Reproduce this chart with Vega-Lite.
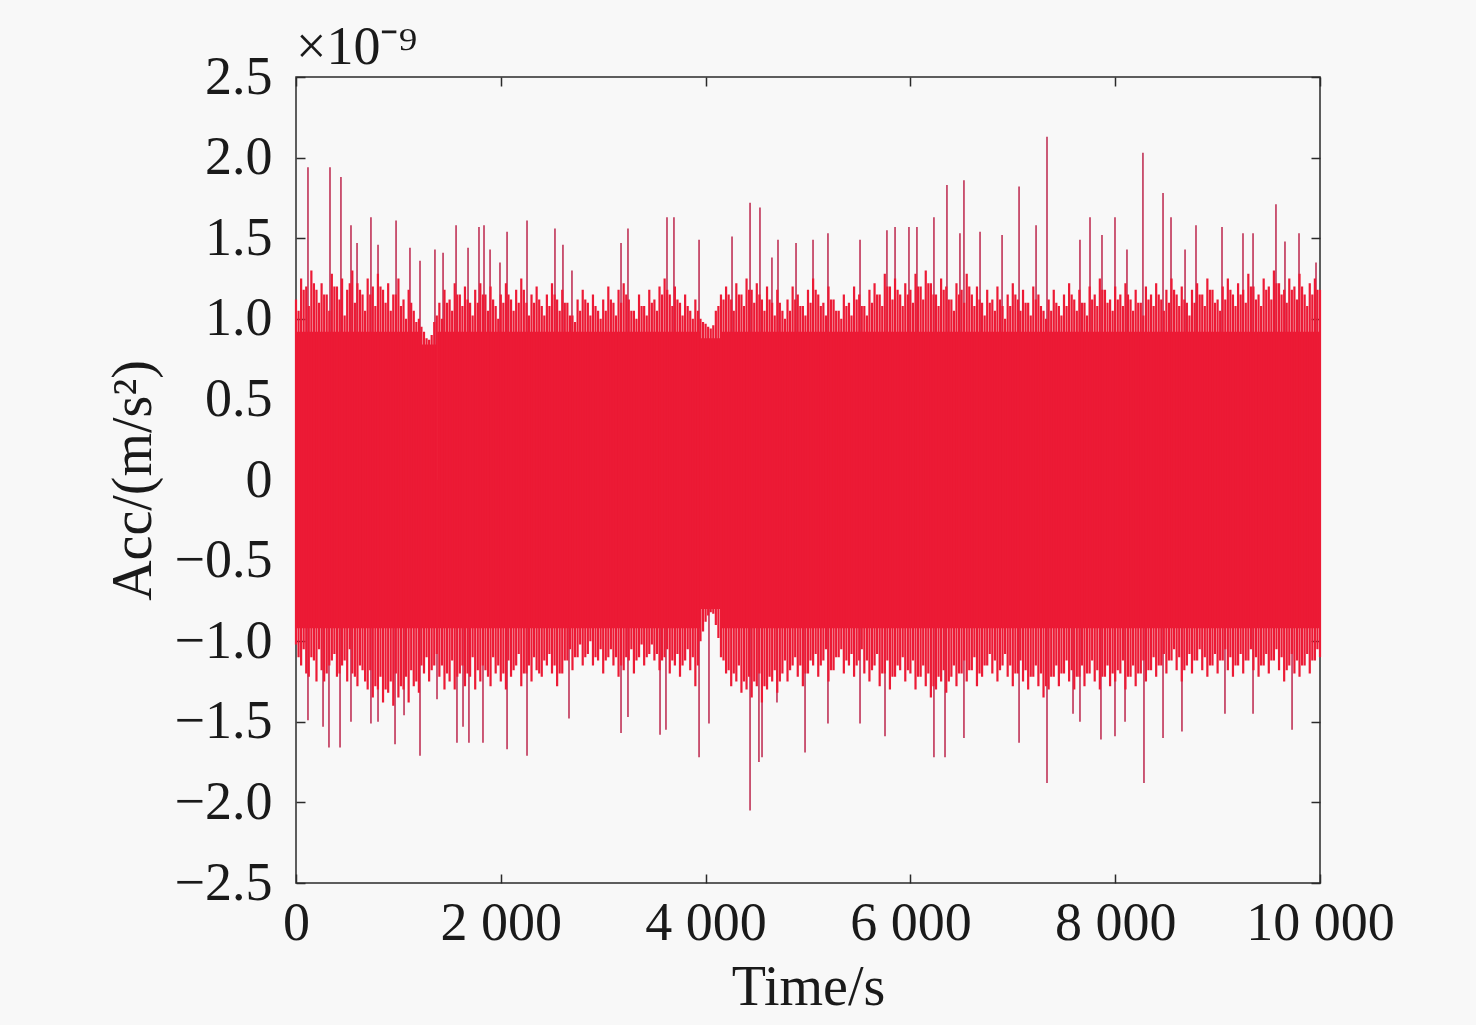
{
  "$schema": "https://vega.github.io/schema/vega-lite/v6.json",
  "width": 1024,
  "height": 806,
  "autosize": {"type": "none"},
  "padding": {"left": 296, "top": 77, "right": 156, "bottom": 142},
  "background": "#F8F8F8",
  "title": {
    "text": "×10⁻⁹",
    "anchor": "start",
    "frame": "group",
    "font": "Liberation Serif",
    "fontSize": 54,
    "fontWeight": "normal",
    "color": "#1a1a1a",
    "offset": 10,
    "dy": 35
  },
  "config": {
    "view": {"stroke": "#2a2a2a", "strokeWidth": 1.5, "fill": "#F8F8F8"},
    "axis": {
      "labelFont": "Liberation Serif",
      "labelFontSize": 54,
      "labelColor": "#1a1a1a",
      "titleFont": "Liberation Serif",
      "titleFontSize": 56,
      "titleFontWeight": "normal",
      "titleColor": "#1a1a1a",
      "domain": false,
      "grid": false,
      "tickSize": -9,
      "tickColor": "#2a2a2a",
      "tickWidth": 1.5
    }
  },
  "datasets": {
    "core": [
      {"t0": 0, "t1": 1220, "lo": -0.92, "hi": 0.92},
      {"t0": 1220, "t1": 1380, "lo": -0.92, "hi": 0.84},
      {"t0": 1380, "t1": 3950, "lo": -0.92, "hi": 0.92},
      {"t0": 3950, "t1": 4150, "lo": -0.8, "hi": 0.88},
      {"t0": 4150, "t1": 10000, "lo": -0.92, "hi": 0.92}
    ],
    "fringe": [
      {"t":0,"hi":1.12,"lo":-1.02},{"t":50,"hi":1.25,"lo":-1.15},{"t":100,"hi":1.2,"lo":-1.2},{"t":150,"hi":1.3,"lo":-1.1},
      {"t":200,"hi":1.18,"lo":-1.25},{"t":250,"hi":1.22,"lo":-1.18},{"t":300,"hi":1.15,"lo":-1.2},{"t":350,"hi":1.28,"lo":-1.12},
      {"t":400,"hi":1.2,"lo":-1.22},{"t":450,"hi":1.25,"lo":-1.15},{"t":500,"hi":1.18,"lo":-1.25},{"t":550,"hi":1.3,"lo":-1.2},
      {"t":600,"hi":1.22,"lo":-1.28},{"t":650,"hi":1.15,"lo":-1.18},{"t":700,"hi":1.25,"lo":-1.3},{"t":750,"hi":1.2,"lo":-1.35},
      {"t":800,"hi":1.28,"lo":-1.3},{"t":850,"hi":1.18,"lo":-1.38},{"t":900,"hi":1.22,"lo":-1.32},{"t":950,"hi":1.15,"lo":-1.4},
      {"t":1000,"hi":1.25,"lo":-1.35},{"t":1050,"hi":1.12,"lo":-1.3},{"t":1100,"hi":1.18,"lo":-1.38},{"t":1150,"hi":1.05,"lo":-1.28},
      {"t":1200,"hi":1.0,"lo":-1.32},{"t":1250,"hi":0.92,"lo":-1.2},{"t":1300,"hi":0.87,"lo":-1.25},{"t":1350,"hi":0.98,"lo":-1.15},
      {"t":1400,"hi":1.1,"lo":-1.22},{"t":1450,"hi":1.18,"lo":-1.3},{"t":1500,"hi":1.12,"lo":-1.25},{"t":1550,"hi":1.22,"lo":-1.3},
      {"t":1600,"hi":1.15,"lo":-1.2},{"t":1650,"hi":1.2,"lo":-1.28},{"t":1700,"hi":1.1,"lo":-1.22},{"t":1750,"hi":1.18,"lo":-1.3},
      {"t":1800,"hi":1.22,"lo":-1.25},{"t":1850,"hi":1.15,"lo":-1.18},{"t":1900,"hi":1.2,"lo":-1.28},{"t":1950,"hi":1.08,"lo":-1.2},
      {"t":2000,"hi":1.15,"lo":-1.25},{"t":2050,"hi":1.22,"lo":-1.3},{"t":2100,"hi":1.12,"lo":-1.22},{"t":2150,"hi":1.18,"lo":-1.15},
      {"t":2200,"hi":1.25,"lo":-1.28},{"t":2250,"hi":1.1,"lo":-1.2},{"t":2300,"hi":1.15,"lo":-1.25},{"t":2350,"hi":1.2,"lo":-1.18},
      {"t":2400,"hi":1.08,"lo":-1.22},{"t":2450,"hi":1.15,"lo":-1.15},{"t":2500,"hi":1.22,"lo":-1.2},{"t":2550,"hi":1.12,"lo":-1.28},
      {"t":2600,"hi":1.18,"lo":-1.2},{"t":2650,"hi":1.1,"lo":-1.12},{"t":2700,"hi":1.02,"lo":-1.18},{"t":2750,"hi":1.12,"lo":-1.1},
      {"t":2800,"hi":1.18,"lo":-1.15},{"t":2850,"hi":1.1,"lo":-1.08},{"t":2900,"hi":1.15,"lo":-1.15},{"t":2950,"hi":1.05,"lo":-1.12},
      {"t":3000,"hi":1.12,"lo":-1.2},{"t":3050,"hi":1.2,"lo":-1.1},{"t":3100,"hi":1.1,"lo":-1.15},{"t":3150,"hi":1.18,"lo":-1.22},
      {"t":3200,"hi":1.22,"lo":-1.18},{"t":3250,"hi":1.12,"lo":-1.12},{"t":3300,"hi":1.05,"lo":-1.2},{"t":3350,"hi":1.15,"lo":-1.1},
      {"t":3400,"hi":1.08,"lo":-1.15},{"t":3450,"hi":1.18,"lo":-1.08},{"t":3500,"hi":1.12,"lo":-1.12},{"t":3550,"hi":1.2,"lo":-1.18},
      {"t":3600,"hi":1.25,"lo":-1.1},{"t":3650,"hi":1.15,"lo":-1.2},{"t":3700,"hi":1.2,"lo":-1.15},{"t":3750,"hi":1.1,"lo":-1.22},
      {"t":3800,"hi":1.15,"lo":-1.12},{"t":3850,"hi":1.05,"lo":-1.18},{"t":3900,"hi":1.12,"lo":-1.28},{"t":3950,"hi":1.0,"lo":-1.0},
      {"t":4000,"hi":0.97,"lo":-0.88},{"t":4050,"hi":0.94,"lo":-0.82},{"t":4100,"hi":1.05,"lo":-0.9},{"t":4150,"hi":1.15,"lo":-1.1},
      {"t":4200,"hi":1.2,"lo":-1.2},{"t":4250,"hi":1.12,"lo":-1.28},{"t":4300,"hi":1.22,"lo":-1.25},{"t":4350,"hi":1.15,"lo":-1.32},
      {"t":4400,"hi":1.25,"lo":-1.3},{"t":4450,"hi":1.18,"lo":-1.35},{"t":4500,"hi":1.22,"lo":-1.28},{"t":4550,"hi":1.12,"lo":-1.38},
      {"t":4600,"hi":1.2,"lo":-1.3},{"t":4650,"hi":1.1,"lo":-1.25},{"t":4700,"hi":1.18,"lo":-1.32},{"t":4750,"hi":1.05,"lo":-1.2},
      {"t":4800,"hi":1.12,"lo":-1.25},{"t":4850,"hi":1.2,"lo":-1.15},{"t":4900,"hi":1.15,"lo":-1.22},{"t":4950,"hi":1.08,"lo":-1.28},
      {"t":5000,"hi":1.18,"lo":-1.2},{"t":5050,"hi":1.25,"lo":-1.15},{"t":5100,"hi":1.15,"lo":-1.22},{"t":5150,"hi":1.1,"lo":-1.12},
      {"t":5200,"hi":1.2,"lo":-1.25},{"t":5250,"hi":1.12,"lo":-1.18},{"t":5300,"hi":1.05,"lo":-1.1},{"t":5350,"hi":1.15,"lo":-1.2},
      {"t":5400,"hi":1.1,"lo":-1.15},{"t":5450,"hi":1.2,"lo":-1.22},{"t":5500,"hi":1.15,"lo":-1.12},{"t":5550,"hi":1.08,"lo":-1.2},
      {"t":5600,"hi":1.18,"lo":-1.25},{"t":5650,"hi":1.22,"lo":-1.15},{"t":5700,"hi":1.15,"lo":-1.28},{"t":5750,"hi":1.28,"lo":-1.2},
      {"t":5800,"hi":1.2,"lo":-1.3},{"t":5850,"hi":1.25,"lo":-1.22},{"t":5900,"hi":1.15,"lo":-1.18},{"t":5950,"hi":1.22,"lo":-1.25},
      {"t":6000,"hi":1.18,"lo":-1.2},{"t":6050,"hi":1.28,"lo":-1.3},{"t":6100,"hi":1.2,"lo":-1.22},{"t":6150,"hi":1.3,"lo":-1.28},
      {"t":6200,"hi":1.22,"lo":-1.35},{"t":6250,"hi":1.15,"lo":-1.3},{"t":6300,"hi":1.25,"lo":-1.25},{"t":6350,"hi":1.2,"lo":-1.32},
      {"t":6400,"hi":1.12,"lo":-1.22},{"t":6450,"hi":1.22,"lo":-1.28},{"t":6500,"hi":1.18,"lo":-1.2},{"t":6550,"hi":1.28,"lo":-1.25},
      {"t":6600,"hi":1.15,"lo":-1.18},{"t":6650,"hi":1.2,"lo":-1.28},{"t":6700,"hi":1.1,"lo":-1.22},{"t":6750,"hi":1.18,"lo":-1.15},
      {"t":6800,"hi":1.12,"lo":-1.2},{"t":6850,"hi":1.2,"lo":-1.25},{"t":6900,"hi":1.08,"lo":-1.15},{"t":6950,"hi":1.15,"lo":-1.22},
      {"t":7000,"hi":1.22,"lo":-1.28},{"t":7050,"hi":1.12,"lo":-1.2},{"t":7100,"hi":1.18,"lo":-1.25},{"t":7150,"hi":1.1,"lo":-1.3},
      {"t":7200,"hi":1.2,"lo":-1.22},{"t":7250,"hi":1.15,"lo":-1.28},{"t":7300,"hi":1.05,"lo":-1.35},{"t":7350,"hi":1.12,"lo":-1.3},
      {"t":7400,"hi":1.18,"lo":-1.22},{"t":7450,"hi":1.08,"lo":-1.28},{"t":7500,"hi":1.15,"lo":-1.2},{"t":7550,"hi":1.22,"lo":-1.25},
      {"t":7600,"hi":1.12,"lo":-1.3},{"t":7650,"hi":1.18,"lo":-1.22},{"t":7700,"hi":1.1,"lo":-1.28},{"t":7750,"hi":1.2,"lo":-1.2},
      {"t":7800,"hi":1.15,"lo":-1.25},{"t":7850,"hi":1.25,"lo":-1.3},{"t":7900,"hi":1.18,"lo":-1.22},{"t":7950,"hi":1.12,"lo":-1.28},
      {"t":8000,"hi":1.2,"lo":-1.25},{"t":8050,"hi":1.15,"lo":-1.2},{"t":8100,"hi":1.22,"lo":-1.3},{"t":8150,"hi":1.12,"lo":-1.22},
      {"t":8200,"hi":1.18,"lo":-1.28},{"t":8250,"hi":1.1,"lo":-1.2},{"t":8300,"hi":1.2,"lo":-1.25},{"t":8350,"hi":1.15,"lo":-1.18},
      {"t":8400,"hi":1.22,"lo":-1.22},{"t":8450,"hi":1.12,"lo":-1.15},{"t":8500,"hi":1.18,"lo":-1.2},{"t":8550,"hi":1.25,"lo":-1.12},
      {"t":8600,"hi":1.15,"lo":-1.18},{"t":8650,"hi":1.2,"lo":-1.25},{"t":8700,"hi":1.1,"lo":-1.15},{"t":8750,"hi":1.18,"lo":-1.2},
      {"t":8800,"hi":1.22,"lo":-1.12},{"t":8850,"hi":1.15,"lo":-1.18},{"t":8900,"hi":1.25,"lo":-1.22},{"t":8950,"hi":1.18,"lo":-1.15},
      {"t":9000,"hi":1.12,"lo":-1.2},{"t":9050,"hi":1.2,"lo":-1.12},{"t":9100,"hi":1.25,"lo":-1.18},{"t":9150,"hi":1.15,"lo":-1.22},
      {"t":9200,"hi":1.22,"lo":-1.15},{"t":9250,"hi":1.18,"lo":-1.2},{"t":9300,"hi":1.28,"lo":-1.12},{"t":9350,"hi":1.2,"lo":-1.18},
      {"t":9400,"hi":1.15,"lo":-1.22},{"t":9450,"hi":1.25,"lo":-1.15},{"t":9500,"hi":1.2,"lo":-1.2},{"t":9550,"hi":1.3,"lo":-1.12},
      {"t":9600,"hi":1.22,"lo":-1.18},{"t":9650,"hi":1.18,"lo":-1.25},{"t":9700,"hi":1.25,"lo":-1.15},{"t":9750,"hi":1.2,"lo":-1.2},
      {"t":9800,"hi":1.28,"lo":-1.22},{"t":9850,"hi":1.15,"lo":-1.15},{"t":9900,"hi":1.22,"lo":-1.2},{"t":9950,"hi":1.25,"lo":-1.12},
      {"t":10000,"hi":1.18,"lo":-1.1},
      {"t":25,"hi":1.05,"lo":-1.1},{"t":75,"hi":1.18,"lo":-1.05},{"t":125,"hi":1.08,"lo":-1.22},{"t":175,"hi":1.22,"lo":-1.12},
      {"t":225,"hi":1.1,"lo":-1.05},{"t":275,"hi":1.15,"lo":-1.25},{"t":325,"hi":1.05,"lo":-1.15},{"t":375,"hi":1.2,"lo":-1.08},
      {"t":425,"hi":1.12,"lo":-1.2},{"t":475,"hi":1.02,"lo":-1.12},{"t":525,"hi":1.22,"lo":-1.05},{"t":575,"hi":1.1,"lo":-1.22},
      {"t":625,"hi":1.18,"lo":-1.15},{"t":675,"hi":1.05,"lo":-1.25},{"t":725,"hi":1.15,"lo":-1.18},{"t":775,"hi":1.08,"lo":-1.28},
      {"t":825,"hi":1.2,"lo":-1.22},{"t":875,"hi":1.1,"lo":-1.3},{"t":925,"hi":1.05,"lo":-1.25},{"t":975,"hi":1.15,"lo":-1.2},
      {"t":1025,"hi":1.08,"lo":-1.28},{"t":1075,"hi":1.0,"lo":-1.22},{"t":1125,"hi":1.1,"lo":-1.18},{"t":1175,"hi":0.98,"lo":-1.25},
      {"t":1225,"hi":0.95,"lo":-1.15},{"t":1275,"hi":0.88,"lo":-1.1},{"t":1325,"hi":0.9,"lo":-1.18},{"t":1375,"hi":1.02,"lo":-1.08},
      {"t":1425,"hi":1.0,"lo":-1.15},{"t":1475,"hi":1.1,"lo":-1.2},{"t":1525,"hi":1.05,"lo":-1.12},{"t":1575,"hi":1.15,"lo":-1.22},
      {"t":1625,"hi":1.08,"lo":-1.15},{"t":1675,"hi":1.12,"lo":-1.2},{"t":1725,"hi":1.02,"lo":-1.1},{"t":1775,"hi":1.1,"lo":-1.18},
      {"t":1825,"hi":1.15,"lo":-1.15},{"t":1875,"hi":1.05,"lo":-1.22},{"t":1925,"hi":1.12,"lo":-1.1},{"t":1975,"hi":1.0,"lo":-1.15},
      {"t":2025,"hi":1.1,"lo":-1.2},{"t":2075,"hi":1.15,"lo":-1.12},{"t":2125,"hi":1.05,"lo":-1.18},{"t":2175,"hi":1.1,"lo":-1.08},
      {"t":2225,"hi":1.18,"lo":-1.2},{"t":2275,"hi":1.02,"lo":-1.15},{"t":2325,"hi":1.1,"lo":-1.1},{"t":2375,"hi":1.12,"lo":-1.2},
      {"t":2425,"hi":1.02,"lo":-1.12},{"t":2475,"hi":1.08,"lo":-1.08},{"t":2525,"hi":1.15,"lo":-1.15},{"t":2575,"hi":1.05,"lo":-1.2},
      {"t":2625,"hi":1.1,"lo":-1.12},{"t":2675,"hi":1.02,"lo":-1.05},{"t":2725,"hi":0.98,"lo":-1.1},{"t":2775,"hi":1.05,"lo":-1.02},
      {"t":2825,"hi":1.12,"lo":-1.1},{"t":2875,"hi":1.02,"lo":-1.0},{"t":2925,"hi":1.08,"lo":-1.1},{"t":2975,"hi":1.0,"lo":-1.05},
      {"t":3025,"hi":1.05,"lo":-1.12},{"t":3075,"hi":1.12,"lo":-1.05},{"t":3125,"hi":1.02,"lo":-1.1},{"t":3175,"hi":1.1,"lo":-1.15},
      {"t":3225,"hi":1.15,"lo":-1.1},{"t":3275,"hi":1.05,"lo":-1.05},{"t":3325,"hi":1.0,"lo":-1.12},{"t":3375,"hi":1.08,"lo":-1.02},
      {"t":3425,"hi":1.02,"lo":-1.1},{"t":3475,"hi":1.1,"lo":-1.02},{"t":3525,"hi":1.05,"lo":-1.08},{"t":3575,"hi":1.15,"lo":-1.12},
      {"t":3625,"hi":1.18,"lo":-1.05},{"t":3675,"hi":1.08,"lo":-1.12},{"t":3725,"hi":1.12,"lo":-1.08},{"t":3775,"hi":1.02,"lo":-1.15},
      {"t":3825,"hi":1.08,"lo":-1.05},{"t":3875,"hi":1.0,"lo":-1.1},{"t":3925,"hi":1.05,"lo":-1.15},{"t":3975,"hi":0.98,"lo":-0.94},
      {"t":4025,"hi":0.95,"lo":-0.84},{"t":4075,"hi":0.96,"lo":-0.83},{"t":4125,"hi":1.08,"lo":-0.98},{"t":4175,"hi":1.12,"lo":-1.12},
      {"t":4225,"hi":1.15,"lo":-1.18},{"t":4275,"hi":1.05,"lo":-1.2},{"t":4325,"hi":1.15,"lo":-1.15},{"t":4375,"hi":1.08,"lo":-1.25},
      {"t":4425,"hi":1.18,"lo":-1.22},{"t":4475,"hi":1.1,"lo":-1.25},{"t":4525,"hi":1.15,"lo":-1.2},{"t":4575,"hi":1.05,"lo":-1.28},
      {"t":4625,"hi":1.12,"lo":-1.22},{"t":4675,"hi":1.02,"lo":-1.18},{"t":4725,"hi":1.1,"lo":-1.25},{"t":4775,"hi":1.0,"lo":-1.12},
      {"t":4825,"hi":1.05,"lo":-1.18},{"t":4875,"hi":1.12,"lo":-1.1},{"t":4925,"hi":1.08,"lo":-1.15},{"t":4975,"hi":1.02,"lo":-1.2},
      {"t":5025,"hi":1.1,"lo":-1.12},{"t":5075,"hi":1.18,"lo":-1.08},{"t":5125,"hi":1.08,"lo":-1.15},{"t":5175,"hi":1.02,"lo":-1.05},
      {"t":5225,"hi":1.12,"lo":-1.18},{"t":5275,"hi":1.05,"lo":-1.1},{"t":5325,"hi":1.0,"lo":-1.05},{"t":5375,"hi":1.08,"lo":-1.12},
      {"t":5425,"hi":1.02,"lo":-1.08},{"t":5475,"hi":1.12,"lo":-1.15},{"t":5525,"hi":1.08,"lo":-1.05},{"t":5575,"hi":1.02,"lo":-1.12},
      {"t":5625,"hi":1.1,"lo":-1.18},{"t":5675,"hi":1.15,"lo":-1.08},{"t":5725,"hi":1.08,"lo":-1.2},{"t":5775,"hi":1.2,"lo":-1.12},
      {"t":5825,"hi":1.12,"lo":-1.22},{"t":5875,"hi":1.18,"lo":-1.15},{"t":5925,"hi":1.08,"lo":-1.1},{"t":5975,"hi":1.15,"lo":-1.18},
      {"t":6025,"hi":1.1,"lo":-1.12},{"t":6075,"hi":1.2,"lo":-1.22},{"t":6125,"hi":1.12,"lo":-1.15},{"t":6175,"hi":1.22,"lo":-1.2},
      {"t":6225,"hi":1.15,"lo":-1.28},{"t":6275,"hi":1.08,"lo":-1.22},{"t":6325,"hi":1.18,"lo":-1.18},{"t":6375,"hi":1.12,"lo":-1.25},
      {"t":6425,"hi":1.05,"lo":-1.15},{"t":6475,"hi":1.15,"lo":-1.2},{"t":6525,"hi":1.1,"lo":-1.12},{"t":6575,"hi":1.2,"lo":-1.18},
      {"t":6625,"hi":1.08,"lo":-1.1},{"t":6675,"hi":1.12,"lo":-1.2},{"t":6725,"hi":1.02,"lo":-1.15},{"t":6775,"hi":1.1,"lo":-1.08},
      {"t":6825,"hi":1.05,"lo":-1.12},{"t":6875,"hi":1.12,"lo":-1.18},{"t":6925,"hi":1.0,"lo":-1.08},{"t":6975,"hi":1.08,"lo":-1.15},
      {"t":7025,"hi":1.15,"lo":-1.2},{"t":7075,"hi":1.05,"lo":-1.12},{"t":7125,"hi":1.1,"lo":-1.18},{"t":7175,"hi":1.02,"lo":-1.22},
      {"t":7225,"hi":1.12,"lo":-1.15},{"t":7275,"hi":1.08,"lo":-1.2},{"t":7325,"hi":1.0,"lo":-1.28},{"t":7375,"hi":1.05,"lo":-1.22},
      {"t":7425,"hi":1.1,"lo":-1.15},{"t":7475,"hi":1.02,"lo":-1.2},{"t":7525,"hi":1.08,"lo":-1.12},{"t":7575,"hi":1.15,"lo":-1.18},
      {"t":7625,"hi":1.05,"lo":-1.22},{"t":7675,"hi":1.1,"lo":-1.15},{"t":7725,"hi":1.02,"lo":-1.2},{"t":7775,"hi":1.12,"lo":-1.12},
      {"t":7825,"hi":1.08,"lo":-1.18},{"t":7875,"hi":1.18,"lo":-1.22},{"t":7925,"hi":1.1,"lo":-1.15},{"t":7975,"hi":1.05,"lo":-1.2},
      {"t":8025,"hi":1.12,"lo":-1.18},{"t":8075,"hi":1.08,"lo":-1.12},{"t":8125,"hi":1.15,"lo":-1.22},{"t":8175,"hi":1.05,"lo":-1.15},
      {"t":8225,"hi":1.1,"lo":-1.2},{"t":8275,"hi":1.02,"lo":-1.12},{"t":8325,"hi":1.12,"lo":-1.18},{"t":8375,"hi":1.08,"lo":-1.1},
      {"t":8425,"hi":1.15,"lo":-1.15},{"t":8475,"hi":1.05,"lo":-1.08},{"t":8525,"hi":1.1,"lo":-1.12},{"t":8575,"hi":1.18,"lo":-1.05},
      {"t":8625,"hi":1.08,"lo":-1.1},{"t":8675,"hi":1.12,"lo":-1.18},{"t":8725,"hi":1.02,"lo":-1.08},{"t":8775,"hi":1.1,"lo":-1.12},
      {"t":8825,"hi":1.15,"lo":-1.05},{"t":8875,"hi":1.08,"lo":-1.1},{"t":8925,"hi":1.18,"lo":-1.15},{"t":8975,"hi":1.1,"lo":-1.08},
      {"t":9025,"hi":1.05,"lo":-1.12},{"t":9075,"hi":1.12,"lo":-1.05},{"t":9125,"hi":1.18,"lo":-1.1},{"t":9175,"hi":1.08,"lo":-1.15},
      {"t":9225,"hi":1.15,"lo":-1.08},{"t":9275,"hi":1.1,"lo":-1.12},{"t":9325,"hi":1.2,"lo":-1.05},{"t":9375,"hi":1.12,"lo":-1.1},
      {"t":9425,"hi":1.08,"lo":-1.15},{"t":9475,"hi":1.18,"lo":-1.08},{"t":9525,"hi":1.12,"lo":-1.12},{"t":9575,"hi":1.22,"lo":-1.05},
      {"t":9625,"hi":1.15,"lo":-1.1},{"t":9675,"hi":1.1,"lo":-1.18},{"t":9725,"hi":1.18,"lo":-1.08},{"t":9775,"hi":1.12,"lo":-1.12},
      {"t":9825,"hi":1.2,"lo":-1.15},{"t":9875,"hi":1.08,"lo":-1.08},{"t":9925,"hi":1.15,"lo":-1.12},{"t":9975,"hi":1.18,"lo":-1.05}
    ],
    "spikes": [
      {"t":117,"v":1.94},{"t":332,"v":1.94},{"t":439,"v":1.88},{"t":537,"v":1.58},{"t":596,"v":1.47},{"t":732,"v":1.63},
      {"t":801,"v":1.46},{"t":977,"v":1.61},{"t":1113,"v":1.44},{"t":1211,"v":1.36},{"t":1357,"v":1.43},{"t":1436,"v":1.41},
      {"t":1563,"v":1.58},{"t":1680,"v":1.44},{"t":1787,"v":1.57},{"t":1836,"v":1.58},{"t":1895,"v":1.43},{"t":1992,"v":1.35},
      {"t":2061,"v":1.54},{"t":2256,"v":1.61},{"t":2529,"v":1.56},{"t":2607,"v":1.46},{"t":2695,"v":1.3},{"t":3174,"v":1.47},
      {"t":3242,"v":1.56},{"t":3623,"v":1.63},{"t":3691,"v":1.63},{"t":3936,"v":1.49},{"t":4258,"v":1.51},{"t":4434,"v":1.72},
      {"t":4531,"v":1.69},{"t":4648,"v":1.38},{"t":4707,"v":1.49},{"t":4883,"v":1.47},{"t":5049,"v":1.49},{"t":5195,"v":1.53},
      {"t":5508,"v":1.49},{"t":5771,"v":1.55},{"t":5850,"v":1.57},{"t":5986,"v":1.57},{"t":6064,"v":1.57},{"t":6230,"v":1.63},
      {"t":6357,"v":1.83},{"t":6484,"v":1.53},{"t":6523,"v":1.86},{"t":6680,"v":1.54},{"t":6895,"v":1.52},{"t":7061,"v":1.82},
      {"t":7227,"v":1.58},{"t":7334,"v":2.13},{"t":7656,"v":1.49},{"t":7754,"v":1.63},{"t":7871,"v":1.52},{"t":7998,"v":1.63},
      {"t":8115,"v":1.43},{"t":8271,"v":2.03},{"t":8467,"v":1.78},{"t":8545,"v":1.63},{"t":8682,"v":1.43},{"t":8789,"v":1.58},
      {"t":9043,"v":1.57},{"t":9248,"v":1.53},{"t":9346,"v":1.53},{"t":9570,"v":1.71},{"t":9658,"v":1.48},{"t":9795,"v":1.53},
      {"t":9961,"v":1.35},
      {"t":117,"v":-1.49},{"t":264,"v":-1.53},{"t":322,"v":-1.66},{"t":430,"v":-1.66},{"t":537,"v":-1.5},{"t":732,"v":-1.51},
      {"t":801,"v":-1.5},{"t":967,"v":-1.64},{"t":1055,"v":-1.46},{"t":1211,"v":-1.71},{"t":1377,"v":-1.36},{"t":1572,"v":-1.63},
      {"t":1631,"v":-1.53},{"t":1689,"v":-1.63},{"t":1826,"v":-1.63},{"t":2061,"v":-1.67},{"t":2256,"v":-1.71},{"t":2666,"v":-1.48},
      {"t":3174,"v":-1.57},{"t":3242,"v":-1.47},{"t":3555,"v":-1.58},{"t":3613,"v":-1.55},{"t":3936,"v":-1.72},{"t":4033,"v":-1.51},
      {"t":4434,"v":-2.05},{"t":4521,"v":-1.75},{"t":4551,"v":-1.72},{"t":4697,"v":-1.38},{"t":4971,"v":-1.69},{"t":5195,"v":-1.51},
      {"t":5508,"v":-1.51},{"t":5752,"v":-1.59},{"t":6230,"v":-1.72},{"t":6338,"v":-1.72},{"t":6523,"v":-1.6},{"t":7061,"v":-1.63},
      {"t":7334,"v":-1.88},{"t":7588,"v":-1.45},{"t":7656,"v":-1.5},{"t":7861,"v":-1.61},{"t":7998,"v":-1.59},{"t":8096,"v":-1.5},
      {"t":8281,"v":-1.88},{"t":8467,"v":-1.6},{"t":8652,"v":-1.56},{"t":9072,"v":-1.45},{"t":9346,"v":-1.45},{"t":9727,"v":-1.55}
    ]
  },
  "layer": [
    {
      "data": {"name": "spikes"},
      "mark": {"type": "rule", "color": "#B8163F", "strokeWidth": 1.4},
      "encoding": {
        "x": {
          "field": "t", "type": "quantitative",
          "scale": {"domain": [0, 10000], "nice": false},
          "axis": {"orient": "top", "labels": false, "title": null, "values": [0, 2000, 4000, 6000, 8000, 10000]}
        },
        "y": {
          "field": "v", "type": "quantitative",
          "scale": {"domain": [-2.5, 2.5], "nice": false},
          "axis": {"orient": "right", "labels": false, "title": null, "values": [-2.5, -2, -1.5, -1, -0.5, 0, 0.5, 1, 1.5, 2, 2.5]}
        },
        "y2": {"datum": 0}
      }
    },
    {
      "data": {"name": "core"},
      "mark": {"type": "rect", "color": "#EC1A35"},
      "encoding": {
        "x": {
          "field": "t0", "type": "quantitative",
          "title": "Time/s",
          "axis": {
            "values": [0, 2000, 4000, 6000, 8000, 10000],
            "labelExpr": "datum.value == 0 ? '0' : replace(format(datum.value, ','), ',', ' ')",
            "labelPadding": 22,
            "titlePadding": 10,
            "labelFlush": false
          }
        },
        "x2": {"field": "t1"},
        "y": {
          "field": "lo", "type": "quantitative",
          "title": "Acc/(m/s²)",
          "axis": {
            "values": [-2.5, -2, -1.5, -1, -0.5, 0, 0.5, 1, 1.5, 2, 2.5],
            "labelExpr": "datum.value == 0 ? '0' : format(datum.value, '.1f')",
            "labelPadding": 33,
            "titlePadding": 12,
            "labelFlush": false
          }
        },
        "y2": {"field": "hi"}
      }
    },
    {
      "data": {"name": "fringe"},
      "mark": {"type": "rule", "color": "#EC1A35", "strokeWidth": 2.2},
      "encoding": {
        "x": {"field": "t", "type": "quantitative", "axis": null},
        "y": {"field": "lo", "type": "quantitative", "axis": null},
        "y2": {"field": "hi"}
      }
    }
  ],
  "resolve": {"axis": {"x": "independent", "y": "independent"}}
}
